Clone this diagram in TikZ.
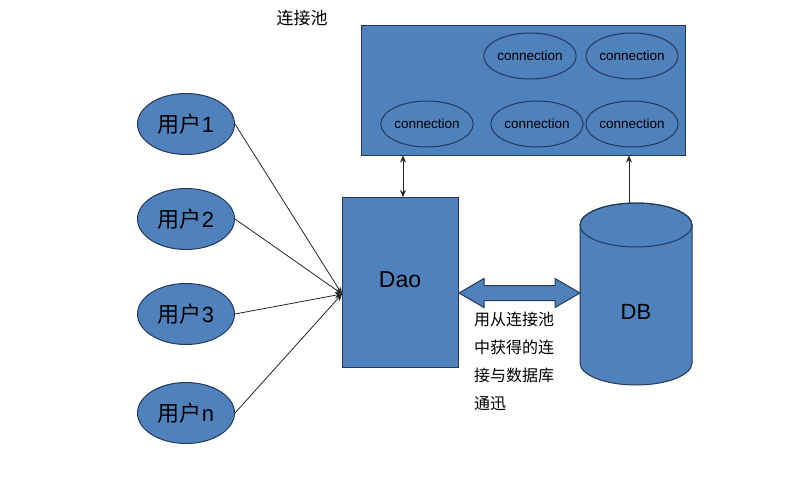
\documentclass[tikz,border=0pt]{standalone}
\usepackage{fontspec}
\setmainfont{Liberation Sans}
\newfontfamily\cjk{Noto Sans CJK SC}
\usetikzlibrary{shapes.geometric,arrows.meta,calc}
\definecolor{boxfill}{RGB}{79,129,189}
\definecolor{boxline}{RGB}{36,56,90}
\tikzset{
  blueshape/.style={fill=boxfill, draw=boxline, line width=1pt, inner sep=0pt},
  userell/.style={blueshape, ellipse, minimum width=97pt, minimum height=61pt, font=\fontsize{22}{26}\selectfont},
  connell/.style={blueshape, ellipse, minimum width=88pt, minimum height=46pt, font=\fontsize{13.5}{16}\selectfont},
  conn/.style={draw=black!85, line width=0.8pt, -{Stealth[length=7pt,width=6pt]}},
  biconn/.style={draw=black!85, line width=0.8pt, {Stealth[length=7pt,width=6pt]}-{Stealth[length=7pt,width=6pt]}},
}
\begin{document}
\begin{tikzpicture}[x=1pt,y=1pt]
\useasboundingbox[fill=white] (0,0) rectangle (807,-485);

% pool
\node[anchor=center, font=\fontsize{17}{20}\selectfont\cjk] (poollabel) at (302,-18) {连接池};
\node[blueshape, rectangle, minimum width=324pt, minimum height=130pt] (pool) at (523,-90) {};
\node[connell] (c1) at (530,-56) {connection};
\node[connell] (c2) at (632,-56) {connection};
\node[connell] (c3) at (427,-124) {connection};
\node[connell] (c4) at (537,-124) {connection};
\node[connell] (c5) at (632,-124) {connection};

% users
\node[userell] (u1) at (186,-124) {{\cjk 用户}1};
\node[userell] (u2) at (186,-219) {{\cjk 用户}2};
\node[userell] (u3) at (186,-314) {{\cjk 用户}3};
\node[userell] (un) at (186,-413) {{\cjk 用户}n};

% Dao
\node[blueshape, rectangle, minimum width=116pt, minimum height=170pt] (dao) at (400,-282) {};
\node[font=\fontsize{23}{26}\selectfont] (daolabel) at (400,-280) {Dao};
\coordinate (daoin) at (342,-294);
\coordinate (daotop) at (403,-197);

% DB cylinder
\path[blueshape] (580,-225) -- (580,-363) arc[start angle=180, end angle=360, x radius=56pt, y radius=22pt] -- (692,-225) arc[start angle=0, end angle=180, x radius=56pt, y radius=22pt] -- cycle;
\draw[boxline, line width=1pt] (636,-225) ellipse[x radius=56pt, y radius=22pt];
\node[font=\fontsize{22}{26}\selectfont] (db) at (636,-312) {DB};
\coordinate (dbtop) at (629,-203);

% user connectors
\draw[conn] (u1.east) -- (daoin);
\draw[conn] (u2.east) -- (daoin);
\draw[conn] (u3.east) -- (daoin);
\draw[conn] (un.east) -- (daoin);

% dao <-> pool
\draw[biconn] (daotop) -- (daotop |- pool.south);
% db -> pool
\draw[conn] (dbtop) -- (dbtop |- pool.south);

% block double arrow
\path[blueshape] (459,-293) -- (484,-278.5) -- (484,-285.5) -- (555,-285.5) -- (555,-278.5) -- (580,-293) -- (555,-307.5) -- (555,-300.5) -- (484,-300.5) -- (484,-307.5) -- cycle;

% explanation text
\node[anchor=north west, align=left, inner sep=0pt, font=\fontsize{16}{28}\selectfont\cjk] (note) at (474,-312) {用从连接池\\中获得的连\\接与数据库\\通迅};
\end{tikzpicture}
\end{document}
